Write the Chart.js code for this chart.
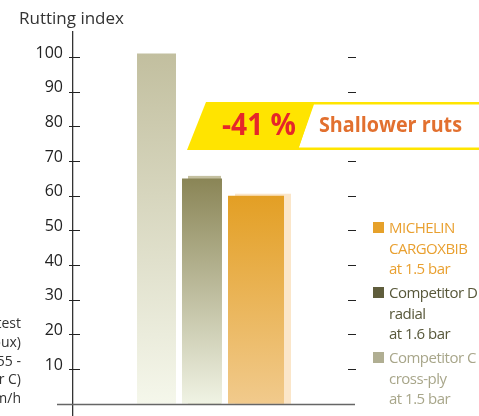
<!DOCTYPE html>
<html>
<head>
<meta charset="utf-8">
<script src="https://cdn.jsdelivr.net/npm/chart.js@4.4.0/dist/chart.umd.min.js"></script>
<style>
    html, body { margin: 0; padding: 0; background: #fff; overflow: hidden; }
    #wrap { position: relative; width: 479px; height: 416px; overflow: hidden; font-family: "Open Sans", sans-serif; }
    #chart { position: absolute; left: 0; top: 0; }
    #title { position: absolute; left: 19px; top: 8px; font-size: 17px; line-height: 20px; color: #333; white-space: nowrap; }
    #note { position: absolute; left: -200px; width: 221px; top: 314px; text-align: right; font-size: 14px; line-height: 18.8px; color: #333; white-space: nowrap; }
    #banner { position: absolute; left: 0; top: 0; pointer-events: none; }
    #legend { position: absolute; left: 373px; top: 217px; font-size: 15px; line-height: 20.5px; letter-spacing: -0.5px; white-space: nowrap; }
    .item { position: relative; padding-left: 16px; margin-bottom: 3.5px; }
    .item .box { position: absolute; left: 0; top: 5px; width: 11px; height: 11px; }
</style>
</head>
<body>
<div id="wrap">
    <canvas id="chart" width="479" height="416"></canvas>
    <div id="title">Rutting index</div>
    <div id="note">Michelin rutting test<br>(Ladoux)<br>600/55 -<br>(Competitor C)<br>at 10 km/h</div>
    <svg id="banner" width="479" height="416"></svg>
    <div id="legend"></div>
</div>
<script>
// data (left to right)
const tyres = ['Competitor C', 'Competitor D', 'MICHELIN CARGOXBIB'];
const legendFirstLine = ['Competitor C', 'Competitor D', 'MICHELIN'];
const legendOtherLines = [['cross-ply', 'at 1.5 bar'], ['radial', 'at 1.6 bar'], ['CARGOXBIB', 'at 1.5 bar']];
const rutIndex = [101, 65, 60];
const yTicks = [10, 20, 30, 40, 50, 60, 70, 80, 90, 100];
const gainLabel = '-41 %';
const gainText = 'Shallower ruts';

// styles
const barTop = ['#c2bf9f', '#8a8556', '#e39f24'];
const barBottom = ['#f5f7eb', '#f0f3e4', '#f1ca8c'];
const boxColors = ['#b0ae92', '#5f5d3c', '#e6a12a'];
const textColors = ['#a8a68a', '#58583a', '#e9a030'];
const catPct = [0.529, 0.529, 0.628];
const barPct = [0.857, 0.879, 1.037];
const shadows = [null, { dx: 6, dy: -2.5, cut: 7, color: '#c4c0a0' }, { dx: 7, dy: -2, cut: 0, color: '#fbe6c9' }];

function barFill(i) {
    return function (context) {
        const chart = context.chart;
        if (!chart.chartArea) return barTop[i];
        const y = chart.scales.y;
        const g = chart.ctx.createLinearGradient(0, y.getPixelForValue(rutIndex[i]), 0, y.getPixelForValue(0));
        g.addColorStop(0, barTop[i]);
        g.addColorStop(1, barBottom[i]);
        return g;
    };
}

// light offset blocks behind the bars
const barShadows = {
    id: 'barShadows',
    beforeDatasetsDraw(chart) {
        const ctx = chart.ctx;
        ctx.save();
        shadows.forEach((s, i) => {
            if (!s) return;
            const bar = chart.getDatasetMeta(i).data[0];
            const left = bar.x - bar.width / 2 + s.dx;
            ctx.fillStyle = s.color;
            ctx.fillRect(left, bar.y + s.dy, bar.width - s.cut, bar.base - bar.y - s.dy);
        });
        ctx.restore();
    }
};

// tick marks across the axis, right-hand dashes and the base line
const axisDecor = {
    id: 'axisDecor',
    afterDraw(chart) {
        const ctx = chart.ctx;
        const y = chart.scales.y;
        const area = chart.chartArea;
        const rightX = area.right + 17;
        ctx.save();
        ctx.strokeStyle = '#222';
        ctx.lineWidth = 1.2;
        yTicks.forEach(v => {
            const py = Math.round(y.getPixelForValue(v)) + 0.5;
            ctx.beginPath();
            ctx.moveTo(area.left - 4, py);
            ctx.lineTo(area.left + 7, py);
            ctx.moveTo(rightX, py);
            ctx.lineTo(rightX + 8, py);
            ctx.stroke();
        });
        const p0 = Math.round(y.getPixelForValue(0)) + 0.5;
        ctx.strokeStyle = '#666';
        ctx.lineWidth = 1.6;
        ctx.beginPath();
        ctx.moveTo(area.left - 16, p0);
        ctx.lineTo(rightX + 7, p0);
        ctx.stroke();
        ctx.restore();
    }
};

const datasets = tyres.map((name, i) => ({
    label: name,
    data: [rutIndex[i]],
    backgroundColor: barFill(i),
    borderWidth: 0,
    categoryPercentage: catPct[i],
    barPercentage: barPct[i]
}));

new Chart(document.getElementById('chart'), {
    type: 'bar',
    data: { labels: ['Rutting index'], datasets: datasets },
    options: {
        responsive: false,
        animation: false,
        layout: { padding: { top: 32, right: 148, left: 0, bottom: 0 } },
        plugins: {
            legend: { display: false },
            tooltip: { enabled: false }
        },
        scales: {
            x: { display: false },
            y: {
                min: -3.5,
                max: 107.2,
                afterBuildTicks: s => { s.ticks = yTicks.map(v => ({ value: v })); },
                afterFit: s => { s.width = 73; s.paddingTop = 0; s.paddingBottom = 0; },
                grid: { display: false, drawTicks: false },
                border: { display: true, color: '#333', width: 1.3 },
                ticks: {
                    padding: 10,
                    labelOffset: -4,
                    color: '#222',
                    font: { family: 'Open Sans', size: 16 }
                }
            }
        }
    },
    plugins: [barShadows, axisDecor]
});

// banner
const svgNS = 'http://www.w3.org/2000/svg';
const svg = document.getElementById('banner');
function addEl(tag, attrs, text) {
    const el = document.createElementNS(svgNS, tag);
    Object.keys(attrs).forEach(k => el.setAttribute(k, attrs[k]));
    if (text) el.textContent = text;
    svg.appendChild(el);
    return el;
}
addEl('polygon', { points: '313,103.3 484,103.3 484,148.8 297,148.8', fill: '#fff', stroke: '#ffe500', 'stroke-width': 2.5 });
addEl('polygon', { points: '206,102 314,102 298,150 187,150', fill: '#ffe400' });
addEl('text', { x: 222, y: 135, fill: '#e5262a', 'font-family': 'Open Sans', 'font-weight': 'bold', 'font-size': 30, textLength: 74, lengthAdjust: 'spacingAndGlyphs' }, gainLabel);
addEl('text', { x: 319, y: 132, fill: '#e2702f', 'font-family': 'Open Sans', 'font-weight': 'bold', 'font-size': 21, textLength: 143, lengthAdjust: 'spacingAndGlyphs' }, gainText);

// legend, Michelin first
const legend = document.getElementById('legend');
[2, 1, 0].forEach(i => {
    const item = document.createElement('div');
    item.className = 'item';
    item.style.color = textColors[i];
    item.innerHTML = '<span class="box" style="background:' + boxColors[i] + '"></span>' +
        [legendFirstLine[i]].concat(legendOtherLines[i]).join('<br>');
    legend.appendChild(item);
});
</script>
</body>
</html>
